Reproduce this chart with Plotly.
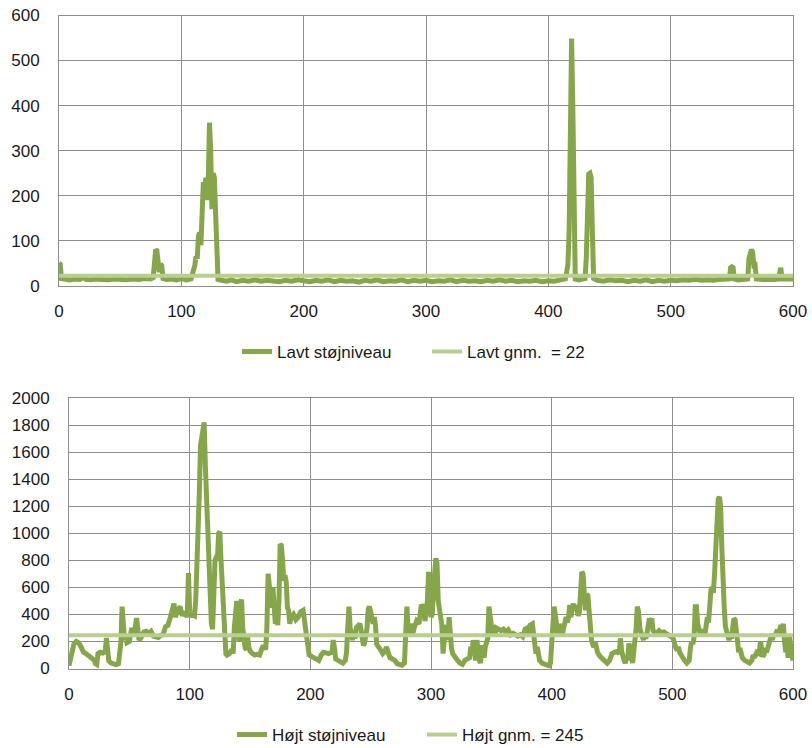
import plotly.graph_objects as go

# ---------------- data ----------------
x_ticks = [0, 100, 200, 300, 400, 500, 600]
low_y_ticks = [0, 100, 200, 300, 400, 500, 600]
high_y_ticks = [0, 200, 400, 600, 800, 1000, 1200, 1400, 1600, 1800, 2000]

low_name = "Lavt støjniveau"
low_avg_name = "Lavt gnm.  = 22"
low_avg = 22
high_name = "Højt støjniveau"
high_avg_name = "Højt gnm. = 245"
high_avg = 245

low_pts = [
    (0, 50), (1, 48), (2, 16), (5, 14), (9, 13), (13, 15), (17, 14), (20, 19), (22, 14), (26, 13),
    (30, 15), (35, 14), (40, 13), (45, 15), (50, 14), (55, 13), (60, 15), (65, 14), (70, 16), (75, 15),
    (77, 18), (78, 70), (79, 80), (80, 78), (81, 40), (82, 30), (83, 48), (84, 45), (85, 16), (88, 14),
    (92, 15), (96, 13), (100, 16), (104, 13), (108, 15), (110, 30), (111, 45), (112, 65), (113, 60),
    (114, 110), (115, 118), (116, 90), (117, 180), (118, 230), (119, 200), (120, 240), (121, 190),
    (122, 230), (123, 362), (124, 300), (125, 170), (126, 250), (127, 240), (128, 180), (129, 120),
    (130, 14), (133, 12), (137, 10), (141, 13), (145, 9), (150, 12), (155, 10), (160, 13), (165, 10),
    (170, 12), (175, 11), (180, 9), (185, 12), (190, 10), (195, 13), (200, 11), (205, 9), (210, 12),
    (215, 10), (220, 13), (225, 9), (230, 12), (235, 10), (240, 11), (245, 8), (250, 12), (255, 10),
    (260, 13), (265, 9), (270, 11), (275, 10), (280, 13), (285, 9), (290, 12), (295, 10), (300, 12),
    (305, 9), (310, 11), (315, 10), (320, 13), (325, 9), (330, 12), (335, 10), (340, 11), (345, 9),
    (350, 12), (355, 10), (360, 13), (365, 10), (370, 12), (375, 9), (380, 11), (385, 10), (390, 12),
    (395, 9), (400, 11), (405, 10), (410, 13), (414, 15), (415, 30), (416, 48), (417, 120), (418, 400),
    (419, 549), (420, 400), (421, 80), (422, 15), (425, 13), (428, 14), (430, 16), (431, 60), (432, 200),
    (433, 248), (434, 250), (435, 240), (436, 120), (437, 16), (440, 12), (445, 10), (450, 13), (455, 11),
    (460, 12), (465, 9), (470, 12), (475, 10), (480, 13), (485, 9), (490, 12), (495, 10), (500, 12),
    (505, 11), (510, 13), (515, 12), (520, 14), (525, 12), (530, 13), (535, 12), (540, 14), (545, 13),
    (548, 15), (549, 40), (550, 42), (551, 40), (552, 15), (555, 13), (560, 14), (563, 15), (564, 60),
    (565, 79), (566, 80), (567, 75), (568, 45), (569, 46), (570, 15), (575, 14), (580, 13), (585, 14),
    (588, 15), (589, 40), (590, 40), (591, 15), (595, 14), (600, 15),
]

high_pts = [
    (0, 20), (1, 60), (2, 140), (4, 180), (6, 200), (8, 190), (10, 160), (12, 120), (14, 110), (16, 95),
    (18, 80), (20, 70), (21, 60), (22, 35), (23, 30), (24, 110), (26, 120), (28, 115), (30, 125), (31, 225),
    (32, 90), (33, 55), (35, 40), (37, 30), (39, 28), (41, 35), (42, 120), (43, 190), (44, 457), (45, 280),
    (46, 210), (47, 230), (48, 190), (50, 200), (52, 300), (53, 260), (54, 250), (56, 373), (57, 250),
    (58, 210), (60, 230), (62, 270), (64, 275), (66, 260), (68, 275), (70, 240), (72, 235), (74, 230),
    (76, 245), (78, 250), (80, 310), (82, 320), (84, 380), (86, 450), (87, 480), (88, 380), (90, 420),
    (92, 460), (94, 390), (96, 420), (98, 380), (99, 705), (100, 420), (101, 380), (102, 400), (104, 390),
    (105, 500), (106, 900), (107, 1270), (108, 1300), (109, 1650), (110, 1700), (111, 1800), (112, 1820),
    (113, 1500), (114, 1250), (115, 1100), (116, 600), (117, 400), (118, 330), (119, 290), (120, 600),
    (121, 800), (122, 820), (123, 810), (124, 1000), (125, 1010), (126, 800), (127, 580), (128, 530),
    (129, 300), (130, 110), (131, 100), (133, 110), (135, 140), (136, 110), (137, 300), (138, 490),
    (139, 500), (140, 340), (141, 200), (142, 480), (143, 510), (144, 300), (145, 180), (146, 150),
    (147, 140), (148, 230), (149, 160), (150, 130), (152, 110), (154, 100), (156, 105), (158, 100),
    (160, 150), (161, 170), (163, 140), (164, 300), (165, 700), (166, 620), (167, 560), (168, 450),
    (169, 600), (170, 500), (171, 330), (172, 380), (173, 320), (174, 500), (175, 920), (176, 910),
    (177, 800), (178, 650), (179, 690), (180, 640), (181, 450), (182, 430), (183, 330), (184, 380),
    (186, 400), (188, 360), (190, 380), (192, 420), (194, 430), (196, 300), (197, 220), (198, 150),
    (199, 100), (201, 90), (203, 80), (205, 75), (207, 60), (209, 100), (211, 120), (213, 115), (215, 110),
    (218, 120), (219, 210), (220, 150), (221, 70), (223, 60), (225, 50), (227, 40), (229, 60), (230, 120),
    (231, 300), (232, 457), (233, 300), (234, 250), (235, 210), (236, 260), (237, 220), (238, 300),
    (240, 320), (241, 330), (242, 290), (243, 200), (244, 170), (245, 190), (247, 300), (248, 440),
    (249, 457), (250, 420), (251, 380), (252, 330), (253, 380), (254, 320), (255, 180), (256, 160),
    (258, 140), (260, 110), (262, 130), (263, 160), (264, 125), (266, 80), (268, 70), (270, 60), (272, 35),
    (274, 30), (276, 25), (278, 40), (279, 200), (280, 457), (281, 300), (282, 260), (283, 330), (284, 300),
    (285, 260), (286, 300), (288, 350), (290, 330), (291, 400), (292, 470), (293, 460), (294, 457),
    (295, 350), (296, 400), (297, 500), (298, 715), (299, 600), (300, 380), (301, 400), (302, 500),
    (303, 700), (304, 815), (305, 780), (306, 500), (307, 450), (308, 380), (309, 320), (310, 110),
    (311, 200), (312, 320), (313, 300), (314, 210), (315, 380), (316, 190), (317, 150), (318, 110),
    (320, 80), (322, 60), (324, 40), (326, 30), (328, 60), (330, 70), (332, 80), (333, 160), (334, 110),
    (335, 210), (336, 130), (337, 60), (338, 210), (339, 100), (340, 60), (341, 40), (342, 170), (343, 140),
    (344, 80), (345, 160), (347, 220), (348, 457), (349, 330), (350, 320), (351, 260), (352, 280),
    (353, 250), (354, 300), (356, 290), (358, 280), (360, 290), (362, 270), (364, 285), (366, 250),
    (368, 260), (370, 245), (372, 240), (374, 250), (376, 235), (378, 290), (380, 300), (381, 260),
    (382, 320), (384, 330), (385, 250), (386, 170), (387, 110), (388, 160), (389, 80), (390, 60), (392, 40),
    (394, 30), (396, 25), (398, 20), (399, 40), (400, 200), (401, 300), (402, 457), (403, 400), (404, 330),
    (405, 260), (406, 300), (407, 330), (408, 270), (409, 260), (410, 300), (411, 330), (412, 380),
    (413, 340), (414, 380), (415, 470), (416, 380), (417, 440), (418, 480), (419, 430), (420, 470),
    (421, 430), (422, 390), (423, 420), (424, 600), (425, 715), (426, 700), (427, 550), (428, 430),
    (429, 550), (430, 540), (431, 430), (432, 300), (433, 210), (434, 180), (435, 160), (436, 200),
    (437, 160), (438, 120), (440, 90), (442, 70), (444, 50), (446, 40), (448, 60), (450, 110), (452, 120),
    (454, 125), (456, 110), (457, 223), (458, 130), (459, 70), (460, 60), (461, 40), (462, 80), (463, 60),
    (464, 185), (465, 160), (466, 70), (467, 40), (468, 120), (469, 200), (470, 300), (471, 457), (472, 420),
    (473, 300), (474, 260), (475, 230), (476, 210), (477, 260), (478, 220), (479, 260), (480, 310),
    (481, 370), (482, 350), (483, 370), (484, 280), (485, 270), (487, 260), (489, 280), (491, 265),
    (493, 270), (495, 260), (497, 240), (499, 235), (500, 245), (501, 200), (502, 160), (503, 150),
    (504, 135), (505, 160), (506, 120), (508, 80), (510, 60), (512, 40), (514, 60), (515, 150), (516, 200),
    (517, 180), (518, 230), (519, 457), (520, 457), (521, 330), (522, 280), (523, 260), (524, 240),
    (525, 260), (526, 290), (527, 250), (528, 330), (529, 380), (530, 340), (531, 550), (532, 580),
    (533, 600), (534, 560), (535, 700), (536, 900), (537, 1100), (538, 1250), (539, 1270), (540, 1200),
    (541, 900), (542, 600), (543, 450), (544, 310), (545, 260), (546, 230), (547, 210), (548, 250),
    (549, 220), (550, 300), (551, 370), (552, 360), (553, 250), (554, 180), (555, 120), (556, 150),
    (558, 80), (560, 60), (562, 45), (564, 40), (566, 60), (567, 100), (568, 80), (570, 120), (572, 110),
    (573, 200), (574, 150), (575, 90), (576, 100), (577, 150), (578, 120), (580, 180), (581, 210),
    (582, 240), (583, 210), (584, 260), (585, 240), (586, 270), (587, 285), (588, 250), (589, 310),
    (590, 320), (591, 290), (592, 330), (593, 200), (594, 120), (595, 160), (596, 80), (597, 250),
    (598, 120), (599, 100), (600, 60),
]

low_x = [p[0] for p in low_pts]
low_y = [p[1] for p in low_pts]
high_x = [p[0] for p in high_pts]
high_y = [p[1] for p in high_pts]

# ---------------- style ----------------
DARK = "#86A64A"
LIGHT = "#B8CF90"
GRID = "#8E8E8E"
FONT = "Liberation Sans"
TXT = "#1A1A1A"
W, H = 812, 748

fig = go.Figure()

fig.add_trace(go.Scatter(x=low_x, y=low_y, mode="lines", name=low_name,
                         line=dict(color=DARK, width=5), xaxis="x", yaxis="y",
                         legend="legend"))
fig.add_trace(go.Scatter(x=[x_ticks[0], x_ticks[-1]], y=[low_avg, low_avg], mode="lines",
                         name=low_avg_name, line=dict(color=LIGHT, width=4),
                         xaxis="x", yaxis="y", legend="legend"))
fig.add_trace(go.Scatter(x=high_x, y=high_y, mode="lines", name=high_name,
                         line=dict(color=DARK, width=5), xaxis="x2", yaxis="y2",
                         legend="legend2"))
fig.add_trace(go.Scatter(x=[x_ticks[0], x_ticks[-1]], y=[high_avg, high_avg], mode="lines",
                         name=high_avg_name, line=dict(color=LIGHT, width=4),
                         xaxis="x2", yaxis="y2", legend="legend2"))

axis_common = dict(showgrid=True, gridcolor=GRID, gridwidth=1, showline=True, linecolor=GRID,
                   linewidth=1, mirror=True, zeroline=False, ticks="", automargin=False,
                   tickfont=dict(family=FONT, size=17, color=TXT))

top_l, top_r, top_t, top_b = 59, 793, 15.5, 285.7
bot_l, bot_r, bot_t, bot_b = 69, 793, 398, 668.5

legend_common = dict(orientation="h", xanchor="left", yanchor="middle",
                     font=dict(family=FONT, size=17, color=TXT), bgcolor="rgba(0,0,0,0)",
                     itemwidth=30, tracegroupgap=0, entrywidth=145, entrywidthmode="pixels")

fig.update_layout(
    width=W, height=H, margin=dict(l=0, r=0, t=0, b=0, autoexpand=False),
    paper_bgcolor="white", plot_bgcolor="white",
    font=dict(family=FONT, size=17, color=TXT),
    xaxis=dict(axis_common, domain=[top_l / W, top_r / W], range=[x_ticks[0], x_ticks[-1]],
               tickvals=x_ticks, anchor="y", ticklabelstandoff=10),
    yaxis=dict(axis_common, domain=[1 - top_b / H, 1 - top_t / H],
               range=[low_y_ticks[0], low_y_ticks[-1]], tickvals=low_y_ticks, anchor="x",
               ticklabelstandoff=15),
    xaxis2=dict(axis_common, domain=[bot_l / W, bot_r / W], range=[x_ticks[0], x_ticks[-1]],
                tickvals=x_ticks, anchor="y2", ticklabelstandoff=10),
    yaxis2=dict(axis_common, domain=[1 - bot_b / H, 1 - bot_t / H],
                range=[high_y_ticks[0], high_y_ticks[-1]], tickvals=high_y_ticks, anchor="x2",
                ticklabelstandoff=15),
    legend=dict(legend_common, x=(242 - 5) / W, y=1 - 352 / H),
    legend2=dict(legend_common, x=(237 - 5) / W, y=1 - 735 / H),
    showlegend=True,
)

fig.write_html("out.html")
